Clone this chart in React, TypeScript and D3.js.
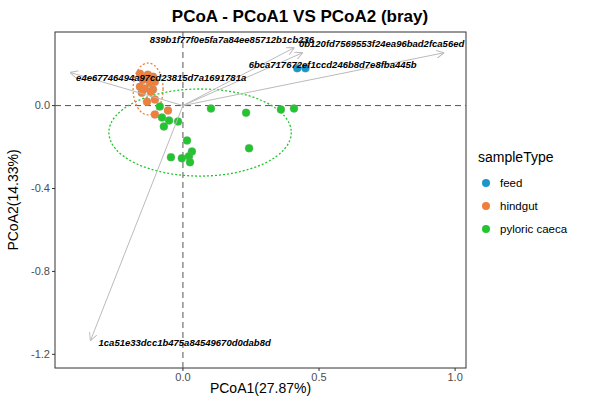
import * as d3 from "d3";

const feedPts: [number, number][] = [[0.42, 0.18], [0.45, 0.18]];
const hindgutPts: [number, number][] = [
  [-0.158, 0.154], [-0.129, 0.149], [-0.110, 0.139], [-0.147, 0.125], [-0.103, 0.115],
  [-0.121, 0.110], [-0.158, 0.091], [-0.140, 0.082], [-0.110, 0.077], [-0.151, 0.062],
  [-0.118, 0.067], [-0.103, 0.029], [-0.132, 0.019], [-0.055, -0.024], [-0.103, -0.043],
];
const caecaPts: [number, number][] = [
  [-0.085, -0.005], [0.103, -0.014], [0.232, -0.034], [0.360, -0.019], [0.408, -0.014],
  [-0.077, -0.058], [-0.051, -0.072], [-0.018, -0.077], [-0.070, -0.101], [0.015, -0.168],
  [0.243, -0.206], [0.033, -0.221], [0.022, -0.245], [-0.044, -0.249], [-0.004, -0.254],
  [0.026, -0.273],
];
const groups = ["feed", "hindgut", "pyloric caeca"];
const colors = ["#1A97C8", "#F07F3A", "#22C52F"];
const arrows = [
  { name: "839b1f77f0e5fa7a84ee85712b1cb236", x: 0.41, y: 0.28, lx: 0.18, ly: 0.32 },
  { name: "0b120fd7569553f24ea96bad2fca56ed", x: 0.44, y: 0.255, lx: 0.73, ly: 0.30 },
  { name: "6bca717672ef1ccd246b8d7e8fba445b", x: 0.96, y: 0.255, lx: 0.55, ly: 0.195 },
  { name: "e4e67746494a97cd23815d7a1691781a", x: -0.415, y: 0.16, lx: -0.08, ly: 0.135 },
  { name: "1ca51e33dcc1b475a84549670d0dab8d", x: -0.34, y: -1.135, lx: -0.31, ly: -1.145 },
];
// ellipses: center, radii in data units
const ellipses = [
  { g: 1, cx: -0.128, cy: 0.08, rx: 0.055, ry: 0.125 },
  { g: 2, cx: 0.063, cy: -0.13, rx: 0.335, ry: 0.21 },
];
const xTicks = [0, 0.5, 1];
const yTicks = [0, -0.4, -0.8, -1.2];

export default function App() {
  const L = 55, R = 466, T = 32, B = 368;
  const x = d3.scaleLinear().domain([-0.47, 1.04]).range([L, R]);
  const y = d3.scaleLinear().domain([0.355, -1.266]).range([T, B]);
  const sets = [feedPts, hindgutPts, caecaPts];
  const f = "Helvetica, Arial, 'Liberation Sans', sans-serif";
  return (
    <svg width={600} height={400} style={{ position: "absolute", left: 0, top: 0 }} fontFamily={f}>
      <defs>
        <marker id="ah" viewBox="0 0 10 10" refX="10" refY="5" markerWidth="8" markerHeight="8" orient="auto">
          <path d="M0,0 L10,5 L0,10" fill="none" stroke="#bbb" strokeWidth={1.2} />
        </marker>
      </defs>
      <rect width={600} height={400} fill="white" />
      <text x={300} y={22} textAnchor="middle" fontSize={17} fontWeight="bold">PCoA - PCoA1 VS PCoA2 (bray)</text>
      <rect x={L} y={T} width={R - L} height={B - T} fill="none" stroke="#333" strokeWidth={1} />
      <line x1={L} x2={R} y1={y(0)} y2={y(0)} stroke="#555" strokeDasharray="6,4" />
      <line x1={x(0)} x2={x(0)} y1={T} y2={B} stroke="#555" strokeDasharray="6,4" />
      {ellipses.map((e, i) => (
        <ellipse key={i} cx={x(e.cx)} cy={y(e.cy)} rx={x(e.rx) - x(0)} ry={y(0) - y(e.ry)}
          fill="none" stroke={colors[e.g]} strokeWidth={1.3} strokeDasharray="2,2" />
      ))}
      {sets.map((pts, gi) => pts.map((p, i) => (
        <circle key={gi + "-" + i} cx={x(p[0])} cy={y(p[1])} r={4} fill={colors[gi]} stroke="#999" strokeWidth={0.3} />
      )))}
      {arrows.map((a) => (
        <g key={a.name}>
          <line x1={x(0)} y1={y(0)} x2={x(a.x)} y2={y(a.y)} stroke="#bbb" strokeWidth={1} markerEnd="url(#ah)" />
          <text x={x(a.lx)} y={y(a.ly)} fontSize={9.5} fontStyle="italic" fontWeight="bold" textAnchor={a.name.startsWith("1ca") ? "start" : "middle"} dy="0.35em">{a.name}</text>
        </g>
      ))}
      {xTicks.map((t) => (
        <g key={t}>
          <line x1={x(t)} x2={x(t)} y1={B} y2={B + 3} stroke="#333" />
          <text x={x(t)} y={B + 13} textAnchor="middle" fontSize={11} fill="#4d4d4d">{t.toFixed(1)}</text>
        </g>
      ))}
      {yTicks.map((t) => (
        <g key={t}>
          <line x1={L - 3} x2={L} y1={y(t)} y2={y(t)} stroke="#333" />
          <text x={L - 5} y={y(t)} dy="0.35em" textAnchor="end" fontSize={11} fill="#4d4d4d">{t.toFixed(1)}</text>
        </g>
      ))}
      <text x={(L + R) / 2} y={393} textAnchor="middle" fontSize={14}>PCoA1(27.87%)</text>
      <text transform={`translate(18,${(T + B) / 2}) rotate(-90)`} textAnchor="middle" fontSize={14}>PCoA2(14.33%)</text>
      <text x={478} y={162} fontSize={14}>sampleType</text>
      {groups.map((g, i) => (
        <g key={g}>
          <circle cx={486} cy={183 + i * 23} r={4} fill={colors[i]} />
          <text x={500} y={183 + i * 23} dy="0.35em" fontSize={11.5}>{g}</text>
        </g>
      ))}
    </svg>
  );
}
